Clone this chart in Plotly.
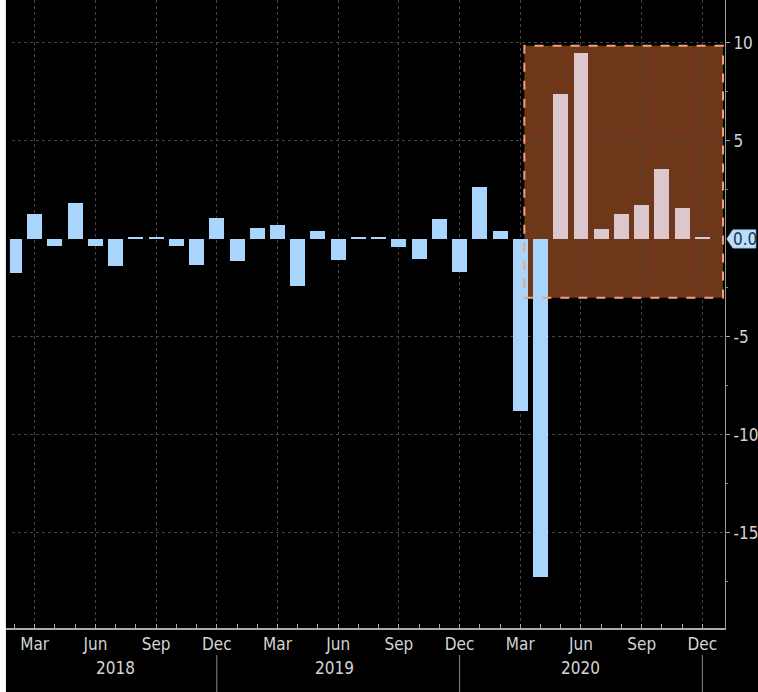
import plotly.graph_objects as go

# ---- data ----
months = ["Feb 2018", "Mar 2018", "Apr 2018", "May 2018", "Jun 2018", "Jul 2018", "Aug 2018",
          "Sep 2018", "Oct 2018", "Nov 2018", "Dec 2018", "Jan 2019", "Feb 2019", "Mar 2019",
          "Apr 2019", "May 2019", "Jun 2019", "Jul 2019", "Aug 2019", "Sep 2019", "Oct 2019",
          "Nov 2019", "Dec 2019", "Jan 2020", "Feb 2020", "Mar 2020", "Apr 2020", "May 2020",
          "Jun 2020", "Jul 2020", "Aug 2020", "Sep 2020", "Oct 2020", "Nov 2020", "Dec 2020"]
values = [-1.75, 1.29, -0.36, 1.84, -0.36, -1.38, 0.08, 0.08, -0.36, -1.33, 1.07, -1.14, 0.58,
          0.70, -2.38, 0.42, -1.07, 0.08, 0.08, -0.39, -1.00, 1.02, -1.68, 2.67, 0.42, -8.78,
          -17.25, 7.38, 9.50, 0.53, 1.26, 1.73, 3.59, 1.57, 0.08]
month_tick_labels = ["Mar", "Jun", "Sep", "Dec"]
year_labels = ["2018", "2019", "2020"]
y_tick_vals = [10, 5, -5, -10, -15]
y_tick_text = ["10", "5", "-5", "-10", "-15"]

# ---- geometry (pixels) ----
W, H = 758, 692
L, R, T, B = 0, 27, 0, 64
PW, PH = W - L - R, H - T - B
X0_PX, MONTH_PX = 14.6, 20.4          # pixel centre of first month, pixels per month

def xi(p):  # page pixel x -> x data (month index)
    return (p - X0_PX) / MONTH_PX

def px(p):  # page pixel x -> paper x
    return (p - L) / PW

def py(p):  # page pixel y -> paper y
    return (H - B - p) / PH

idx = list(range(len(months)))
highlight_start = months.index("May 2020")
BLUE = "#a9d5fc"
PINK = "#dcc7cd"
colors = [PINK if i >= highlight_start else BLUE for i in idx]

FONT = "DejaVu Sans Condensed, Liberation Sans Narrow, Arial Narrow, sans-serif"
TXT = "#d4d4d4"
FS = 17

fig = go.Figure()
fig.add_trace(go.Bar(x=idx, y=values, marker=dict(color=colors, line=dict(width=0)),
                     width=0.74, hoverinfo="x+y"))

major_x = [i for i, m in enumerate(months) if m.split()[0] in month_tick_labels]
major_text = [months[i].split()[0] for i in major_x]

fig.update_layout(
    width=W, height=H,
    margin=dict(l=L, r=R, t=T, b=B),
    paper_bgcolor="black", plot_bgcolor="black",
    showlegend=False,
    bargap=0,
    font=dict(family=FONT, color=TXT, size=FS),
    xaxis=dict(range=[xi(0), xi(731)], tickvals=major_x, ticktext=major_text,
               ticks="inside", ticklen=4, tickcolor="#aaaaaa",
               showgrid=True, gridcolor="#454545", griddash="dot", gridwidth=1,
               showline=True, linecolor="#aaaaaa", linewidth=2,
               zeroline=False, tickfont=dict(size=FS, color=TXT, family=FONT),
               minor=dict(tickvals=idx, ticks="inside", ticklen=4, tickcolor="#aaaaaa",
                          showgrid=False)),
    yaxis=dict(range=[-19.85, 12.19], side="right", tickvals=y_tick_vals, ticktext=y_tick_text,
               ticks="outside", ticklen=4, tickcolor="#aaaaaa",
               showgrid=True, gridcolor="#454545", griddash="dot", gridwidth=1,
               showline=True, linecolor="#9a9a9a", linewidth=1, zeroline=False,
               tickfont=dict(size=FS, color=TXT, family=FONT),
               minor=dict(tickvals=[7.5, 2.5, -2.5, -7.5, -12.5, -17.5], ticks="outside",
                          ticklen=2, tickcolor="#888888", showgrid=False)),
)

# highlight box (fill below, dashed border above)
box_x0, box_x1 = 25.2, 34.2 + 0.82
box_y0, box_y1 = -3.0, 9.85
fig.add_shape(type="rect", xref="x", yref="y", x0=box_x0, x1=box_x1, y0=box_y0, y1=box_y1,
              fillcolor="#6f3719", line=dict(width=0), layer="below")
fig.add_shape(type="rect", xref="x", yref="y", x0=box_x0, x1=box_x1, y0=box_y0, y1=box_y1,
              fillcolor="rgba(0,0,0,0)", line=dict(color="#f2a27c", width=2, dash="dash"),
              layer="above")

# left frame: white strip, dark edge, black gap before the plot
fig.add_shape(type="rect", xref="x", yref="paper", x0=xi(0), x1=xi(6), y0=0, y1=1,
              fillcolor="white", line=dict(width=0), layer="above")
fig.add_shape(type="rect", xref="x", yref="paper", x0=xi(6), x1=xi(10), y0=0, y1=1,
              fillcolor="black", line=dict(width=0), layer="above")
fig.add_shape(type="rect", xref="paper", yref="paper", x0=px(0), x1=px(6), y0=py(692), y1=0,
              fillcolor="white", line=dict(width=0), layer="above")

# year separators and labels
for m in ["Dec 2018", "Dec 2019", "Dec 2020"]:
    i = months.index(m)
    fig.add_shape(type="line", xref="x", yref="paper", x0=i, x1=i, y0=py(655), y1=py(692),
                  line=dict(color="#8a8a8a", width=1))
year_pos = [4.97, 15.8, 28.0]
for lab, xp in zip(year_labels, year_pos):
    fig.add_annotation(x=xp, y=py(668), xref="x", yref="paper", text=lab, showarrow=False,
                       font=dict(size=FS, color=TXT, family=FONT),
                       xanchor="center", yanchor="middle")

# 0.0 badge on the right axis
fig.add_shape(type="path", xref="paper", yref="y",
              path=f"M {px(733)},0 L {px(739)},0.46 L {px(762)},0.46 L {px(762)},-0.46 L {px(739)},-0.46 Z",
              fillcolor="#bcdff9", line=dict(color="#9fcdf2", width=1), layer="above")
fig.add_annotation(x=px(737), y=0, xref="paper", yref="y", text="0.0", showarrow=False,
                   xanchor="left", yanchor="middle",
                   font=dict(size=FS, color="#1d2f55", family=FONT))

fig.write_html(
    "out.html",
    config={"displayModeBar": False},
    post_script=("document.body.style.margin='0';"
                 "document.body.style.background='black';"
                 "document.body.style.overflow='hidden';"),
)
